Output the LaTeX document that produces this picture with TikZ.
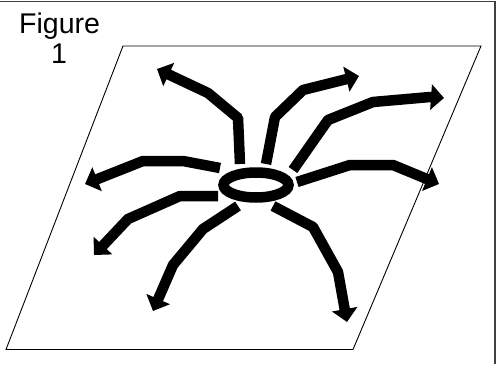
\documentclass[tikz,border=0pt]{standalone}
\usepackage{fontspec}
\setmainfont{Liberation Sans}
\usetikzlibrary{arrows.meta}
\tikzset{
  ray/.style={line width=10.5pt, line join=bevel, -{Triangle[width=25pt,length=13pt]}},
  hub/.style={line width=10.5pt},
  frameline/.style={line width=1.2pt, black!75},
  plane/.style={line width=0.9pt},
  caption/.style={font=\fontsize{28.5}{34}\selectfont, inner sep=0pt},
}
\begin{document}
\begin{tikzpicture}[x=1pt,y=-1pt]
\useasboundingbox (0,0) rectangle (500,364);

% outer frame (top and right edges)
\draw[frameline] (0,1.5) -- (495,1.5) -- (495,364);

% title
\node[caption, anchor=base west] (title) at (19,33) {Figure};
\node[caption, anchor=base] (num) at (59,63) {1};

% ground plane
\draw[plane] (123,46) -- (481,46) -- (353,349.5) -- (6,349.5) -- cycle;

% central ring
\coordinate (c) at (256,185);
\draw[hub] (c) ellipse [x radius=32.5pt, y radius=12.5pt];

% ray start and end points
\coordinate (a0) at (240,164); \coordinate (a1) at (157,69);
\coordinate (b0) at (266,164); \coordinate (b1) at (359,76);
\coordinate (c0) at (293,170); \coordinate (c1) at (444,98);
\coordinate (d0) at (297,182); \coordinate (d1) at (439,184);
\coordinate (e0) at (220,168); \coordinate (e1) at (85,184);
\coordinate (f0) at (218,196); \coordinate (f1) at (94,255);
\coordinate (g0) at (238,206); \coordinate (g1) at (153,311);
\coordinate (h0) at (273,206); \coordinate (h1) at (347,322);

% rays leaving the ring
\draw[ray] (a0) -- (238,118) -- (208,93) -- (a1);
\draw[ray] (b0) -- (275,117) -- (303,90) -- (b1);
\draw[ray] (c0) -- (328,120) -- (373,102) -- (430,97) -- (c1);
\draw[ray] (d0) -- (350,165) -- (393,165) -- (d1);
\draw[ray] (e0) -- (183,161) -- (143,161) -- (e1);
\draw[ray] (f0) -- (180,196) -- (128,219) -- (f1);
\draw[ray] (g0) -- (203,229) -- (173,265) -- (g1);
\draw[ray] (h0) -- (313,227) -- (338,272) -- (h1);
\end{tikzpicture}
\end{document}
